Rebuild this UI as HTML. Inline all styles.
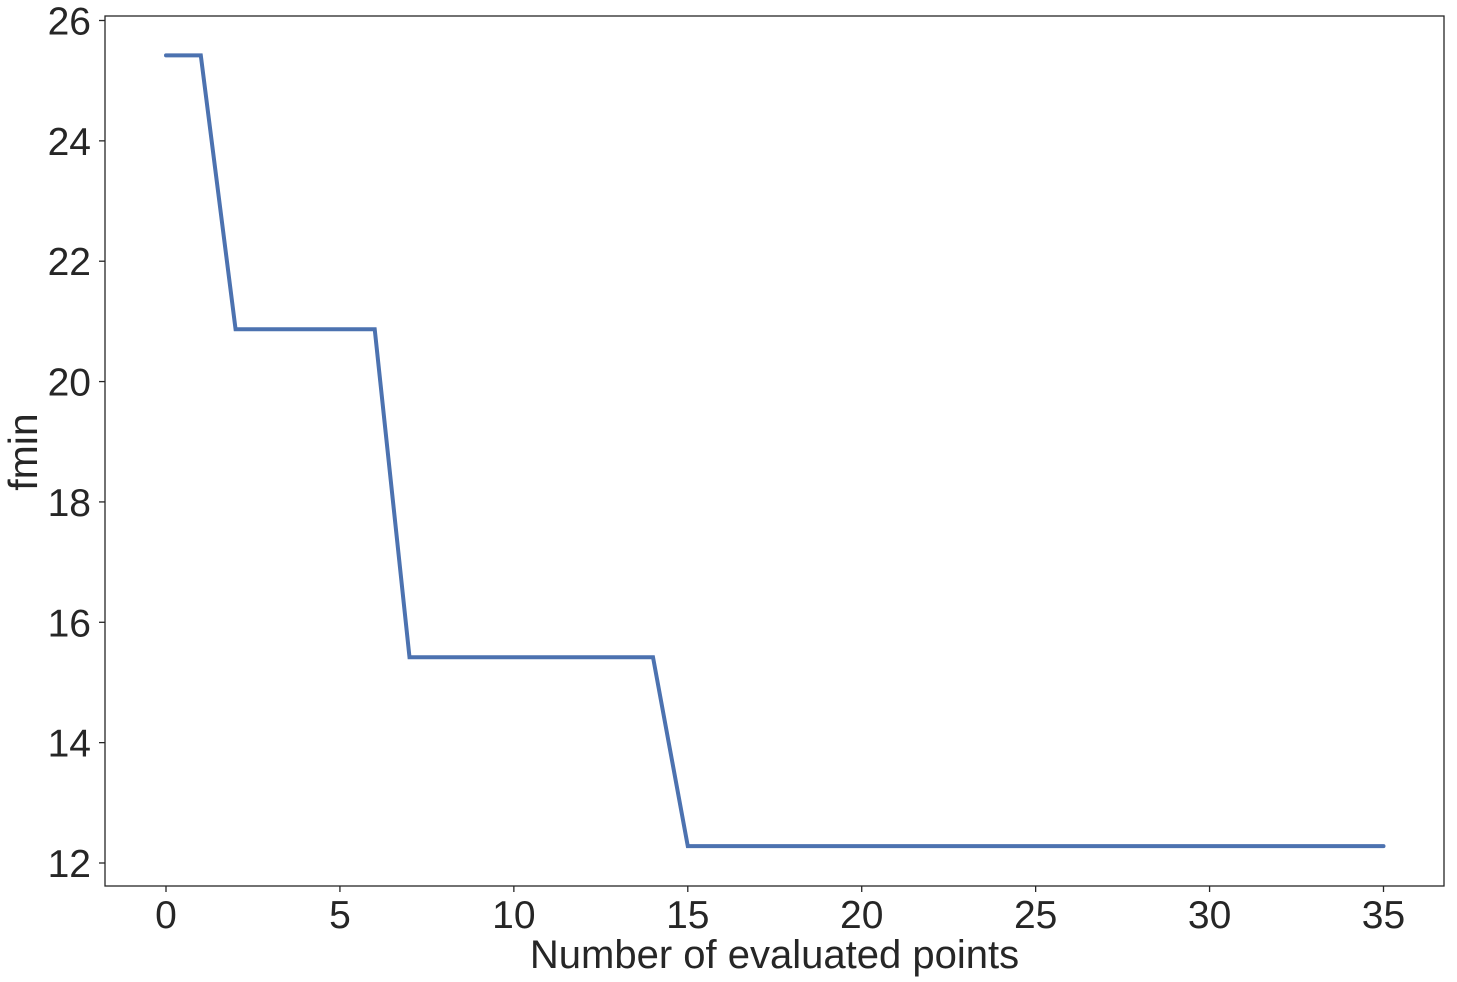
<!DOCTYPE html>
<html><head><meta charset="utf-8">
<style>
html,body{margin:0;padding:0;background:#fff;}
svg{display:block;font-family:"Liberation Sans",Arial,sans-serif;}
</style></head>
<body>
<svg id="chart" width="1457" height="982" viewBox="0 0 1457 982" xmlns="http://www.w3.org/2000/svg">
  <rect x="105" y="16" width="1339" height="870" fill="#fff" stroke="#262626" stroke-width="1.3"/>
  <g id="xticks"></g>
  <g id="yticks"></g>
  <path id="line" fill="none" stroke="#4c72b0" stroke-width="4" stroke-linejoin="miter" stroke-linecap="round"/>
  <text x="774.5" y="968" font-size="40" fill="#262626" text-anchor="middle">Number of evaluated points</text>
  <text transform="translate(37,452) rotate(-90)" font-size="41" fill="#262626" text-anchor="middle">fmin</text>
</svg>
<script>
const xValues = [0,1,2,3,4,5,6,7,8,9,10,11,12,13,14,15,16,17,18,19,20,21,22,23,24,25,26,27,28,29,30,31,32,33,34,35];
const fminValues = [25.42,25.42,20.87,20.87,20.87,20.87,20.87,15.42,15.42,15.42,15.42,15.42,15.42,15.42,15.42,12.28,12.28,12.28,12.28,12.28,12.28,12.28,12.28,12.28,12.28,12.28,12.28,12.28,12.28,12.28,12.28,12.28,12.28,12.28,12.28,12.28];
const xTickLabels = [0,5,10,15,20,25,30,35];
const yTickLabels = [12,14,16,18,20,22,24,26];

const NS = "http://www.w3.org/2000/svg";
function xScale(v){ return 166 + (v - 0) * (1383.5 - 166) / 35; }
function yScale(v){ return 863 - (v - 12) * (863 - 20.5) / 14; }

const xg = document.getElementById('xticks');
xTickLabels.forEach(t => {
  const x = xScale(t);
  const l = document.createElementNS(NS,'line');
  
  
  l.setAttribute('x1', x); l.setAttribute('x2', x);
  l.setAttribute('y1', 886); l.setAttribute('y2', 892);
  l.setAttribute('stroke', '#262626'); l.setAttribute('stroke-width', '1.3');
  xg.appendChild(l);
  const tx = document.createElementNS(NS,'text');
  
  
  tx.setAttribute('x', x); tx.setAttribute('y', 928);
  tx.setAttribute('font-size', '39'); tx.setAttribute('fill', '#262626');
  tx.setAttribute('text-anchor', 'middle');
  tx.textContent = t;
  xg.appendChild(tx);
});

const yg = document.getElementById('yticks');
yTickLabels.forEach(t => {
  const y = yScale(t);
  const l = document.createElementNS(NS,'line');
  
  
  l.setAttribute('x1', 99); l.setAttribute('x2', 105);
  l.setAttribute('y1', y); l.setAttribute('y2', y);
  l.setAttribute('stroke', '#262626'); l.setAttribute('stroke-width', '1.3');
  yg.appendChild(l);
  const tx = document.createElementNS(NS,'text');
  
  
  tx.setAttribute('x', 91); tx.setAttribute('y', y + 14);
  tx.setAttribute('font-size', '39'); tx.setAttribute('fill', '#262626');
  tx.setAttribute('text-anchor', 'end');
  tx.textContent = t;
  yg.appendChild(tx);
});

let d = '';
xValues.forEach((x, i) => {
  d += (i ? 'L' : 'M') + xScale(x).toFixed(2) + ' ' + yScale(fminValues[i]).toFixed(2) + ' ';
});
document.getElementById('line').setAttribute('d', d);
</script>
</body></html>
